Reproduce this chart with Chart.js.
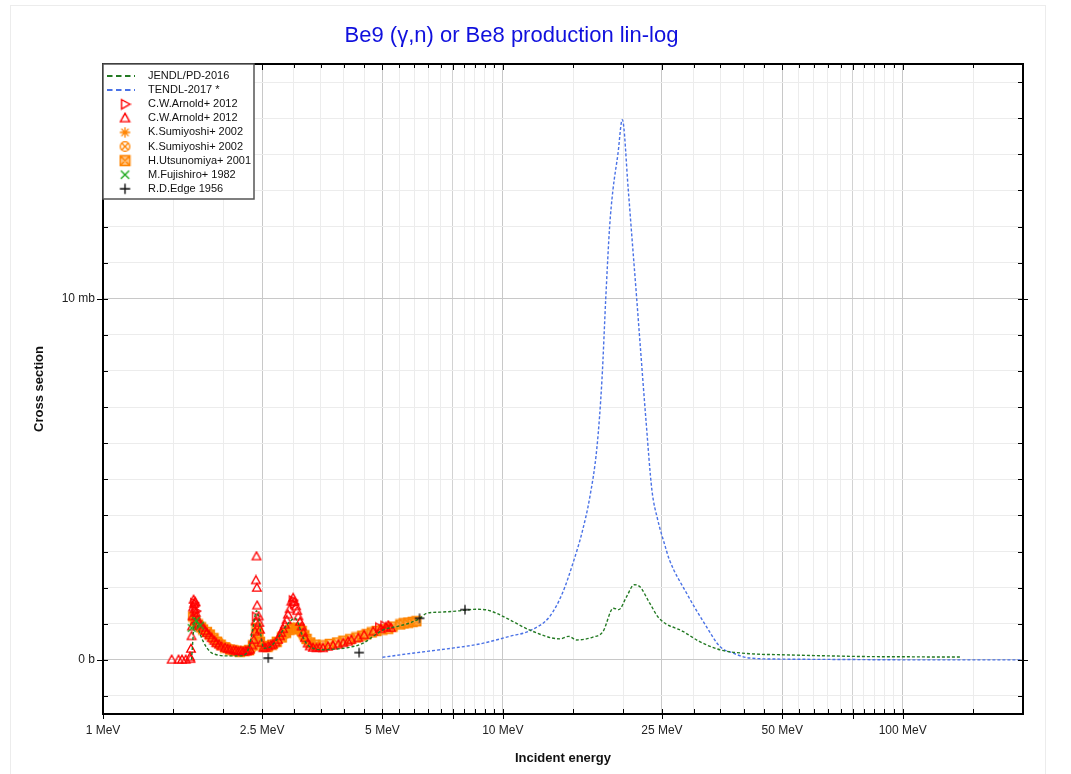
<!DOCTYPE html>
<html>
<head>
<meta charset="utf-8">
<script src="https://cdn.jsdelivr.net/npm/chart.js"></script>
<style>
  html, body { margin: 0; padding: 0; background: #fff; }
  #wrap { width: 1071px; height: 774px; position: relative; }
</style>
</head>
<body>
<div id="wrap"><canvas id="chartXs"></canvas></div>
<script>
'use strict';

// ---- data (energy in MeV, cross section in mb) ----
const jendlE = [1.665, 1.69, 1.698, 1.714, 1.731, 1.781, 1.851, 1.925, 2.05, 2.2,
  2.288, 2.331, 2.375, 2.421, 2.457, 2.492, 2.525, 2.611, 2.716, 2.823,
  2.934, 3.02, 3.076, 3.136, 3.224, 3.353, 3.555, 3.833, 4.15, 4.47,
  4.74, 5.02, 5.42, 5.85, 6.2, 6.45, 6.96, 7.65, 8.6, 9.1,
  9.64, 10.4, 11.7, 13.9, 14.6, 15.3, 16.8, 17.8, 18.9, 19.5,
  20.4, 21.3, 22.0, 23.3, 24.6, 28.3, 31.0, 34.9, 41.4, 50,
  65, 81, 100, 120, 140];
const jendlV = [0, 1.0, 1.16, 1.1, 0.88, 0.51, 0.23, 0.14, 0.11, 0.11,
  0.19, 0.46, 0.92, 1.36, 1.1, 0.55, 0.32, 0.35, 0.55, 0.83,
  1.06, 1.15, 1.02, 0.74, 0.46, 0.32, 0.28, 0.30, 0.35, 0.46,
  0.65, 0.83, 0.92, 1.02, 1.15, 1.29, 1.32, 1.35, 1.40, 1.385,
  1.29, 1.11, 0.82, 0.58, 0.65, 0.55, 0.63, 0.78, 1.43, 1.39,
  1.75, 2.08, 2.03, 1.57, 1.15, 0.78, 0.51, 0.28, 0.17, 0.14,
  0.11, 0.09, 0.085, 0.08, 0.08];

const tendlE = [5.0, 6.0, 7.2, 8.75, 10.4, 11.7, 13.1, 14.1, 15.0, 15.8,
  16.5, 17.2, 17.7, 18.1, 18.5, 18.85, 19.4, 19.9, 20.6, 21.0,
  21.6, 22.1, 22.8, 23.6, 24.4, 25.4, 26.1, 28.8, 32.3, 34.9,
  37.6, 41.4, 50, 70, 100, 150, 200];
const tendlV = [0.07, 0.19, 0.30, 0.44, 0.65, 0.81, 1.2, 1.85, 2.7, 3.55,
  4.5, 5.9, 7.76, 10.06, 12.0, 13.0, 14.0, 14.96, 13.0, 11.8,
  10.06, 8.6, 6.65, 4.7, 3.88, 3.19, 2.77, 1.85, 0.92, 0.37,
  0.19, 0.05, 0.02, 0.01, 0, 0, 0];

const arnoldRE = [1.69, 1.70, 1.71, 2.41, 2.98, 3.0, 4.9, 5.05];
const arnoldRV = [1.58, 1.5, 1.35, 1.2, 1.65, 1.55, 0.9, 0.95];

const arnoldE = [1.485, 1.545, 1.576, 1.61, 1.65, 1.655, 1.66, 1.665, 1.67, 1.675,
  1.68, 1.685, 1.69, 1.695, 1.7, 1.705, 1.71, 1.72, 1.74, 1.76,
  1.78, 1.8, 1.82, 1.845, 1.87, 1.9, 1.92, 1.95, 1.98, 2.02,
  2.05, 2.08, 2.12, 2.15, 2.18, 2.21, 2.24, 2.27, 2.29, 2.31,
  2.33, 2.36, 2.38, 2.4, 2.41, 2.412, 2.42, 2.425, 2.43, 2.45,
  2.46, 2.47, 2.49, 2.52, 2.55, 2.59, 2.63, 2.66, 2.7, 2.74,
  2.77, 2.79, 2.82, 2.85, 2.88, 2.9, 2.93, 2.96, 2.99, 3.01,
  3.04, 3.06, 3.08, 3.11, 3.14, 3.17, 3.2, 3.25, 3.29, 3.35,
  3.42, 3.48, 3.55, 3.65, 3.76, 3.88, 3.99, 4.1, 4.18, 4.35,
  4.5, 4.74, 4.95, 5.1, 5.17, 5.25];
const arnoldV = [0, 0, 0, 0, 0.07, 0.02, 0.3, 0.65, 0.92, 1.2,
  1.45, 1.66, 1.55, 1.4, 1.6, 1.3, 1.2, 1.1, 1.0, 0.95,
  0.89, 0.8, 0.74, 0.68, 0.6, 0.52, 0.46, 0.42, 0.37, 0.33,
  0.3, 0.28, 0.26, 0.25, 0.23, 0.24, 0.22, 0.24, 0.23, 0.25,
  0.28, 0.4, 0.55, 0.78, 1.06, 2.2, 2.86, 1.99, 1.5, 1.2,
  1.02, 0.83, 0.47, 0.32, 0.33, 0.37, 0.4, 0.42, 0.48, 0.55,
  0.65, 0.74, 0.85, 0.97, 1.1, 1.25, 1.4, 1.61, 1.71, 1.6,
  1.48, 1.35, 1.2, 1.05, 0.92, 0.75, 0.6, 0.45, 0.37, 0.33,
  0.32, 0.33, 0.32, 0.36, 0.39, 0.42, 0.46, 0.5, 0.55, 0.6,
  0.68, 0.78, 0.85, 0.9, 0.95, 0.88];

const sumiStarE = [1.7, 1.75, 1.8, 1.9, 2.0, 2.1, 2.2, 2.3, 2.4, 2.5, 2.6, 2.8, 2.9, 3.0, 3.1, 3.2, 3.4];
const sumiStarV = [1.0, 0.9, 0.8, 0.6, 0.4, 0.3, 0.25, 0.25, 0.6, 0.4, 0.35, 0.6, 0.8, 0.9, 0.8, 0.55, 0.4];

const sumiCircE = [1.72, 1.78, 1.85, 1.95, 2.05, 2.15, 2.25, 2.35, 2.45, 2.55, 2.7, 2.85, 2.95, 3.05, 3.15, 3.3];
const sumiCircV = [0.95, 0.83, 0.7, 0.5, 0.35, 0.28, 0.24, 0.3, 0.7, 0.38, 0.45, 0.7, 0.85, 0.85, 0.7, 0.45];

const utsuE = [1.68, 1.7, 1.73, 1.76, 1.78, 1.82, 1.85, 1.89, 1.93, 1.97,
  2.02, 2.08, 2.13, 2.2, 2.26, 2.32, 2.37, 2.42, 2.44, 2.47,
  2.52, 2.58, 2.65, 2.72, 2.8, 2.87, 2.93, 3.0, 3.05, 3.1,
  3.14, 3.19, 3.23, 3.3, 3.4, 3.55, 3.69, 3.85, 3.99, 4.15,
  4.3, 4.45, 4.56, 4.7, 4.83, 5.0, 5.17, 5.3, 5.54, 5.65,
  5.8, 5.95, 6.08];
const utsuV = [1.2, 1.08, 0.98, 0.9, 0.84, 0.77, 0.7, 0.6, 0.5, 0.42,
  0.34, 0.28, 0.25, 0.22, 0.24, 0.27, 0.4, 0.89, 0.75, 0.5,
  0.38, 0.36, 0.42, 0.5, 0.62, 0.75, 0.83, 0.88, 0.88, 0.85,
  0.8, 0.68, 0.58, 0.48, 0.42, 0.4, 0.44, 0.48, 0.53, 0.57,
  0.62, 0.67, 0.71, 0.76, 0.8, 0.84, 0.86, 0.92, 0.98, 1.01,
  1.03, 1.05, 1.07];

const fujiE = [1.666, 1.71, 1.75];
const fujiV = [0.88, 1.08, 0.95];

const edgeE = [2.59, 4.37, 6.19, 8.04];
const edgeV = [0.05, 0.2, 1.15, 1.39];

// ---- axes ----
const xMin = 1, xMax = 200;
const xTickValues = [1, 1.5, 2, 2.5, 3, 3.5, 4, 4.5, 5, 5.5, 6, 6.5, 7, 7.5, 8, 8.5, 9, 9.5,
  10, 15, 20, 25, 30, 35, 40, 45, 50, 55, 60, 65, 70, 75, 80, 85, 90, 95, 100, 150, 200];
const xLabeled = [1, 2.5, 5, 10, 25, 50, 100];
const xMid = [7.5, 75];
const yMin = -1.5, yMax = 16.5;
const yTickValues = [-1, 0, 1, 2, 3, 4, 5, 6, 7, 8, 9, 10, 11, 12, 13, 14, 15, 16];
const yLabeled = { 0: '0 b', 10: '10 mb' };

function pts(E, V) {
  const out = [];
  for (let i = 0; i < Math.min(E.length, V.length); i++) out.push({ x: E[i], y: V[i] });
  return out;
}

// marker images
function marker(kind, stroke, fill) {
  const c = document.createElement('canvas');
  c.width = 12; c.height = 12;
  const g = c.getContext('2d');
  const m = 6;
  g.strokeStyle = stroke;
  g.lineWidth = 1.3;
  g.beginPath();
  if (kind === 'triUp') {
    g.moveTo(m, m - 4.6); g.lineTo(m + 4.3, m + 3.2); g.lineTo(m - 4.3, m + 3.2); g.closePath();
  } else if (kind === 'triRight') {
    g.moveTo(m - 3.2, m - 4.3); g.lineTo(m + 4.6, m); g.lineTo(m - 3.2, m + 4.3); g.closePath();
  } else if (kind === 'star') {
    for (let k = 0; k < 4; k++) {
      const an = k * Math.PI / 4;
      g.moveTo(m + 4.8 * Math.cos(an), m + 4.8 * Math.sin(an));
      g.lineTo(m - 4.8 * Math.cos(an), m - 4.8 * Math.sin(an));
    }
  } else if (kind === 'circX') {
    g.arc(m, m, 4.4, 0, Math.PI * 2);
    g.moveTo(m - 3, m - 3); g.lineTo(m + 3, m + 3);
    g.moveTo(m + 3, m - 3); g.lineTo(m - 3, m + 3);
  } else if (kind === 'sqX') {
    g.fillStyle = fill;
    g.fillRect(1, 1, 10, 10);
    g.rect(1.5, 1.5, 9, 9);
    g.moveTo(1.5, 1.5); g.lineTo(10.5, 10.5);
    g.moveTo(10.5, 1.5); g.lineTo(1.5, 10.5);
  } else if (kind === 'x') {
    g.moveTo(m - 3.8, m - 3.8); g.lineTo(m + 3.8, m + 3.8);
    g.moveTo(m + 3.8, m - 3.8); g.lineTo(m - 3.8, m + 3.8);
  } else if (kind === 'plus') {
    g.moveTo(m - 4.8, m); g.lineTo(m + 4.8, m);
    g.moveTo(m, m - 4.8); g.lineTo(m, m + 4.8);
  }
  g.stroke();
  return c;
}

const RED = '#ff0000', ORANGE = '#ff8400', GREEN = '#237a23', BLUE = '#4a72e6';

function lineSet(label, E, V, color) {
  return {
    label: label, data: pts(E, V), showLine: true, borderColor: color,
    borderWidth: 1.4, borderDash: [3, 2], pointRadius: 0, fill: false,
    cubicInterpolationMode: 'monotone', order: 2
  };
}
function pointSet(label, E, V, img, order) {
  return { label: label, data: pts(E, V), showLine: false, pointStyle: img, pointRadius: 5, order: order };
}

const datasets = [
  lineSet('JENDL/PD-2016', jendlE, jendlV, GREEN),
  lineSet('TENDL-2017 *', tendlE, tendlV, BLUE),
  pointSet('C.W.Arnold+ 2012', arnoldRE, arnoldRV, marker('triRight', RED), 3),
  pointSet('C.W.Arnold+ 2012', arnoldE, arnoldV, marker('triUp', RED), 3),
  pointSet('K.Sumiyoshi+ 2002', sumiStarE, sumiStarV, marker('star', ORANGE), 4),
  pointSet('K.Sumiyoshi+ 2002', sumiCircE, sumiCircV, marker('circX', ORANGE), 4),
  pointSet('H.Utsunomiya+ 2001', utsuE, utsuV, marker('sqX', ORANGE, 'rgba(255,160,60,0.6)'), 5),
  pointSet('M.Fujishiro+ 1982', fujiE, fujiV, marker('x', '#22aa22'), 1),
  pointSet('R.D.Edge 1956', edgeE, edgeV, marker('plus', '#111'), 1)
];

// frame, inward ticks and legend box drawn inside the plot
const axisDecor = {
  id: 'axisDecor',
  beforeDraw(chart) {
    const ctx = chart.ctx;
    ctx.save();
    ctx.strokeStyle = '#ececec';
    ctx.lineWidth = 1;
    ctx.strokeRect(10.5, 5.5, 1035, 800);
    ctx.restore();
  },
  afterDraw(chart) {
    const { ctx, chartArea: a, scales } = chart;
    const xs = scales.x, ys = scales.y;
    ctx.save();
    ctx.strokeStyle = '#000';
    ctx.lineWidth = 1;
    ctx.beginPath();
    xTickValues.forEach(v => {
      if (v < xMin || v >= xMax) return;
      const px = Math.round(xs.getPixelForValue(v)) + 0.5;
      const big = xLabeled.includes(v) || xMid.includes(v);
      ctx.moveTo(px, a.bottom - 5); ctx.lineTo(px, a.bottom + (big ? 5 : 0));
      ctx.moveTo(px, a.top); ctx.lineTo(px, a.top + (big ? 6 : 4));
    });
    yTickValues.forEach(v => {
      const py = Math.round(ys.getPixelForValue(v)) + 0.5;
      const big = v in yLabeled;
      ctx.moveTo(a.left - (big ? 6 : 0), py); ctx.lineTo(a.left + 5, py);
      ctx.moveTo(a.right - 5, py); ctx.lineTo(a.right + (big ? 5 : 0), py);
    });
    ctx.stroke();
    ctx.lineWidth = 2;
    ctx.strokeRect(a.left, a.top, a.right - a.left, a.bottom - a.top);

    // legend
    const bx = a.left, by = a.top, bw = 151, bh = 135;
    ctx.fillStyle = '#fff';
    ctx.fillRect(bx, by, bw, bh);
    ctx.strokeStyle = '#555';
    ctx.lineWidth = 1.5;
    ctx.strokeRect(bx, by, bw, bh);
    ctx.font = '11px "Liberation Sans", Arial, sans-serif';
    ctx.textBaseline = 'middle';
    chart.data.datasets.forEach((ds, i) => {
      const ry = by + 12 + i * 14.1;
      if (ds.showLine) {
        ctx.strokeStyle = ds.borderColor;
        ctx.lineWidth = 2;
        ctx.setLineDash([5.5, 3.5]);
        ctx.beginPath();
        ctx.moveTo(bx + 4, ry); ctx.lineTo(bx + 32, ry);
        ctx.stroke();
        ctx.setLineDash([]);
      } else {
        const img = ds.pointStyle;
        ctx.drawImage(img, bx + 22 - 6.5, ry - 6.5, 13, 13);
      }
      ctx.fillStyle = '#111';
      ctx.fillText(ds.label, bx + 45, ry);
    });
    ctx.restore();
  }
};

Chart.defaults.font.family = '"Liberation Sans", Arial, sans-serif';
Chart.defaults.color = '#222';

const chartXs = new Chart(document.getElementById('chartXs'), {
  type: 'scatter',
  data: { datasets: datasets },
  options: {
    responsive: true,
    maintainAspectRatio: false,
    animation: false,
    layout: { padding: { left: 0, right: 48, top: 0, bottom: 0 } },
    plugins: {
      legend: { display: false },
      tooltip: { enabled: false },
      title: {
        display: true,
        text: 'Be9 (\u03b3,n) or Be8 production lin-log',
        color: '#1010dd',
        font: { size: 22, weight: 'normal' },
        padding: { top: 23, bottom: 14.6 }
      }
    },
    scales: {
      x: {
        type: 'logarithmic',
        min: xMin, max: xMax,
        afterBuildTicks: s => { s.ticks = xTickValues.map(v => ({ value: v })); },
        afterFit: s => { s.height = 60; },
        border: { display: false },
        grid: {
          drawTicks: false,
          color: c => {
            const v = c.tick ? c.tick.value : 0;
            if (xLabeled.includes(v)) return '#c8c8c8';
            if (xMid.includes(v)) return '#d2d2d2';
            return '#ececec';
          }
        },
        ticks: {
          autoSkip: false, maxRotation: 0, minRotation: 0, padding: 9,
          font: { size: 12 },
          callback: v => xLabeled.includes(v) ? v + ' MeV' : ''
        },
        title: {
          display: true, text: 'Incident energy',
          font: { size: 13, weight: 'bold' }, color: '#111',
          padding: { top: 0, bottom: 8 }
        }
      },
      y: {
        type: 'linear',
        min: yMin, max: yMax,
        afterBuildTicks: s => { s.ticks = yTickValues.map(v => ({ value: v })); },
        afterFit: s => { s.width = 103; },
        border: { display: false },
        grid: {
          drawTicks: false,
          color: c => {
            const v = c.tick ? c.tick.value : 1;
            return (v in yLabeled) ? '#c8c8c8' : '#ececec';
          }
        },
        ticks: {
          autoSkip: false, padding: 8,
          font: { size: 12 },
          callback: v => yLabeled[v] || ''
        },
        title: {
          display: true, text: 'Cross section',
          font: { size: 13, weight: 'bold' }, color: '#111',
          padding: { top: 32, bottom: 0 }
        }
      }
    }
  },
  plugins: [axisDecor]
});
</script>
</body>
</html>
